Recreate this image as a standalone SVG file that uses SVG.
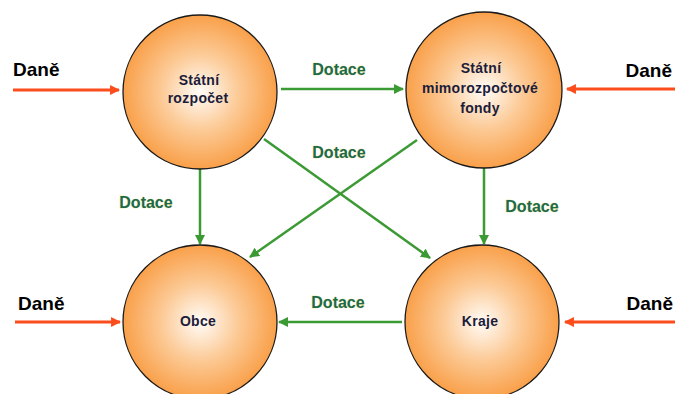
<svg xmlns="http://www.w3.org/2000/svg" width="675" height="394" viewBox="0 0 675 394">
<defs>
<radialGradient id="orb" cx="50%" cy="50%" r="50%">
<stop offset="0" stop-color="#fffcf8"/>
<stop offset="0.5" stop-color="#fcca96"/>
<stop offset="1" stop-color="#f9a04a"/>
</radialGradient>
<marker id="ag" viewBox="0 0 10 10" refX="9" refY="5" markerWidth="4" markerHeight="4" orient="auto" markerUnits="strokeWidth">
<path d="M0,0 L10,5 L0,10 z" fill="#3c9a35"/>
</marker>
<marker id="ar" viewBox="0 0 10 10" refX="9" refY="5" markerWidth="4" markerHeight="3.3" orient="auto" markerUnits="strokeWidth">
<path d="M0,0 L10,5 L0,10 z" fill="#fc4c1c"/>
</marker>
</defs>
<style>
.node circle{fill:url(#orb);stroke:#1a1a1a;stroke-width:1.3}
.node text{font-family:"Liberation Sans",Arial,sans-serif;font-weight:bold;font-size:14px;fill:#1c1c3a;text-anchor:middle;letter-spacing:0.3px}
.g{stroke:#3c9a35;stroke-width:2.5;fill:none;marker-end:url(#ag)}
.r{stroke:#fc4c1c;stroke-width:3;fill:none;marker-end:url(#ar)}
.lbl{font-family:"Liberation Sans",Arial,sans-serif;font-weight:bold;font-size:16px;fill:#1d6a4c;stroke:#e8d84a;stroke-width:0.4;paint-order:stroke}
.tax{font-family:"Liberation Sans",Arial,sans-serif;font-weight:bold;font-size:19px;fill:#000}
</style>
<rect width="675" height="394" fill="#fff"/>
<g id="connectors">
<line class="r" x1="13" y1="90" x2="119" y2="90"/>
<line class="r" x1="675" y1="89" x2="567" y2="89"/>
<line class="r" x1="15" y1="322" x2="120" y2="322"/>
<line class="r" x1="675" y1="322" x2="565" y2="322"/>
<line class="g" x1="281" y1="89" x2="403" y2="89"/>
<line class="g" x1="200" y1="168" x2="200" y2="244"/>
<line class="g" x1="484" y1="168" x2="484" y2="244"/>
<line class="g" x1="402" y1="322" x2="279" y2="322"/>
<line class="g" x1="264" y1="139" x2="430" y2="258"/>
<line class="g" x1="417" y1="140" x2="250" y2="257"/>
<text class="tax" x="13" y="76">Daně</text>
<text class="tax" x="672" y="77" text-anchor="end">Daně</text>
<text class="tax" x="18" y="310">Daně</text>
<text class="tax" x="673" y="310" text-anchor="end">Daně</text>
<text class="lbl" x="339" y="75" text-anchor="middle">Dotace</text>
<text class="lbl" x="339" y="158" text-anchor="middle">Dotace</text>
<text class="lbl" x="146" y="208" text-anchor="middle">Dotace</text>
<text class="lbl" x="532" y="212" text-anchor="middle">Dotace</text>
<text class="lbl" x="338" y="308" text-anchor="middle">Dotace</text>
</g>
<g id="node-statni-rozpocet" class="node">
<circle cx="200" cy="92" r="77"/>
<text x="199" y="85">Státní</text>
<text x="198" y="103">rozpočet</text>
</g>
<g id="node-fondy" class="node">
<circle cx="484" cy="90" r="78"/>
<text x="481" y="73">Státní</text>
<text x="480" y="93">mimorozpočtové</text>
<text x="480" y="113">fondy</text>
</g>
<g id="node-obce" class="node">
<circle cx="200" cy="322" r="77"/>
<text x="198" y="326">Obce</text>
</g>
<g id="node-kraje" class="node">
<circle cx="482" cy="322" r="77"/>
<text x="480" y="326">Kraje</text>
</g>
</svg>
